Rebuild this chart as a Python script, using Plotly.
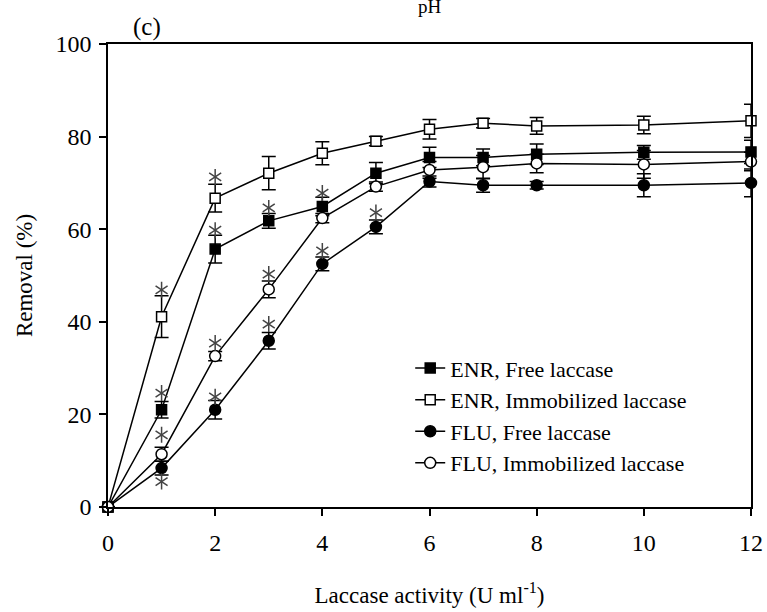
import plotly.graph_objects as go

# Laccase activity levels (U ml-1)
activity = [0, 1, 2, 3, 4, 5, 6, 7, 8, 10, 12]

# Removal (%) and standard deviations for each antibiotic / enzyme form
enr_free = [0, 21.0, 55.7, 61.8, 64.9, 72.1, 75.5, 75.5, 76.2, 76.6, 76.7]
enr_free_sd = [0, 1.8, 3.0, 1.6, 2.0, 2.3, 2.2, 1.8, 2.2, 1.5, 2.5]

enr_immob = [0, 41.1, 66.7, 72.1, 76.4, 79.0, 81.6, 82.9, 82.3, 82.5, 83.4]
enr_immob_sd = [0, 4.5, 3.0, 3.6, 2.5, 1.0, 2.1, 1.0, 1.8, 1.9, 3.6]

flu_free = [0, 8.4, 21.0, 35.9, 52.5, 60.5, 70.3, 69.5, 69.5, 69.5, 70.0]
flu_free_sd = [0, 1.5, 2.0, 1.8, 1.5, 1.5, 1.2, 1.5, 0.8, 2.5, 3.0]

flu_immob = [0, 11.4, 32.6, 47.0, 62.4, 69.2, 72.8, 73.4, 74.2, 74.0, 74.6]
flu_immob_sd = [0, 1.5, 1.0, 1.8, 1.0, 1.0, 1.8, 2.5, 2.0, 3.0, 2.0]

# Significance markers (*)
sig_x = [1, 1, 1, 1, 2, 2, 2, 2, 3, 3, 3, 4, 4, 5]
sig_y = [46.9, 24.6, 15.6, 5.5, 71.3, 59.8, 35.4, 23.8, 64.6, 50.3, 39.5, 67.8, 55.3, 63.6]

series_names = ["ENR, Free laccase", "ENR, Immobilized laccase",
                "FLU, Free laccase", "FLU, Immobilized laccase"]

FONT = "Liberation Serif"
series = [
    (enr_free, enr_free_sd, "square", "black", 10),
    (enr_immob, enr_immob_sd, "square", "white", 10),
    (flu_free, flu_free_sd, "circle", "black", 11),
    (flu_immob, flu_immob_sd, "circle", "white", 11),
]

fig = go.Figure()
for name, (vals, sd, sym, fill, size) in zip(series_names, series):
    fig.add_trace(go.Scatter(
        x=activity, y=vals, name=name, mode="lines+markers",
        line=dict(color="black", width=1.5),
        marker=dict(symbol=sym, size=size, color=fill,
                    line=dict(color="black", width=1.5)),
        error_y=dict(type="data", array=sd, visible=True,
                     color="black", thickness=1.5, width=7),
        cliponaxis=False,
    ))

# six-armed asterisks built from two overlaid "y" symbols
for sym in ["y-up-open", "y-down-open"]:
    fig.add_trace(go.Scatter(
        x=sig_x, y=sig_y, mode="markers", showlegend=False, hoverinfo="skip",
        marker=dict(symbol=sym, size=10, color="#444444",
                    line=dict(color="#444444", width=1.5)),
        cliponaxis=False,
    ))

axis_common = dict(
    showline=True, linecolor="black", linewidth=1.5, mirror=True,
    ticks="outside", ticklen=7, tickwidth=1.5, tickcolor="black",
    showgrid=False, zeroline=False, automargin=False,
    tickfont=dict(family=FONT, size=24, color="black"),
)

fig.update_xaxes(range=[0, 12], dtick=2, tick0=0, ticklabelstandoff=6,
                 title=dict(text="Laccase activity (U ml<sup>-1</sup>)",
                            font=dict(family=FONT, size=23, color="black"),
                            standoff=32),
                 **axis_common)
fig.update_yaxes(range=[0, 100], dtick=20, tick0=0, ticklabelstandoff=3,
                 title=dict(text="Removal (%)",
                            font=dict(family=FONT, size=23, color="black"),
                            standoff=16),
                 **axis_common)

fig.add_annotation(text="(c)", xref="paper", yref="paper", x=0.06, y=1.0,
                   xanchor="center", yanchor="bottom", yshift=1, showarrow=False,
                   font=dict(family=FONT, size=25, color="black"))
fig.add_annotation(text="pH", xref="paper", yref="paper", x=0.5, y=1.0,
                   xanchor="center", yanchor="bottom", yshift=25, showarrow=False,
                   font=dict(family=FONT, size=19, color="black"))

fig.update_layout(
    width=767, height=612,
    margin=dict(l=108, r=16, t=44, b=105),
    paper_bgcolor="white", plot_bgcolor="white",
    showlegend=True,
    legend=dict(x=0.47, y=0.345, xanchor="left", yanchor="top",
                bgcolor="rgba(0,0,0,0)", borderwidth=0, tracegroupgap=0,
                font=dict(family=FONT, size=22, color="black")),
)

fig.write_html("out.html")
